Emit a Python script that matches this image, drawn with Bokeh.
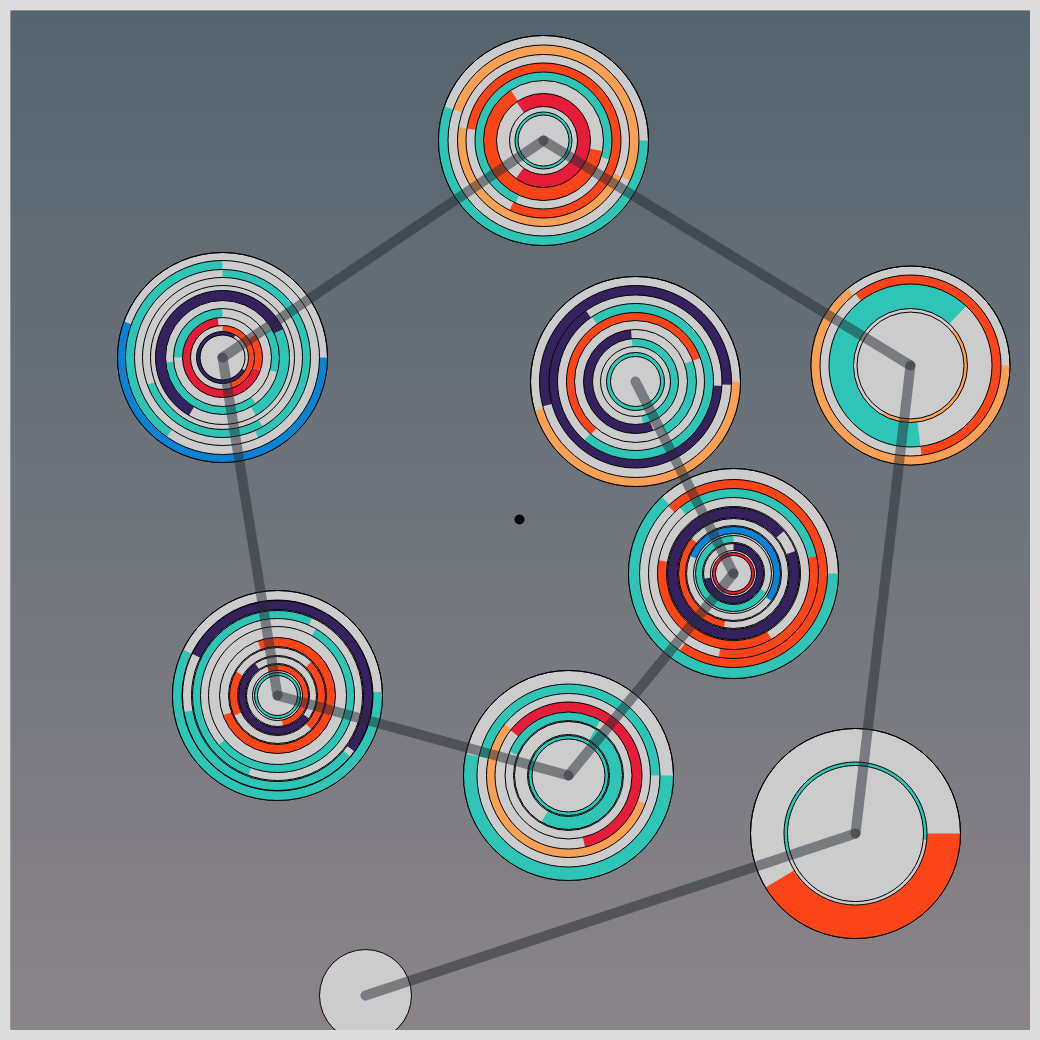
import numpy as np
from bokeh.plotting import figure
from bokeh.models import Range1d, ColumnDataSource
from bokeh.embed import file_html
from bokeh.resources import INLINE

# ---------------- data ----------------
circle_x = [543, 222, 635, 910, 733, 277, 568, 855, 365]
circle_y = [900, 683, 659, 675, 467, 345, 265, 207, 45]
circle_r = [105, 105, 105, 99.5, 105, 105, 105, 105, 46]
path_order = [2, 4, 6, 5, 1, 0, 3, 7, 8]
dot_x = [519]
dot_y = [521]

# rings: circle index, outer radius, inner radius, colour code, start deg, end deg
ring_circle = [0, 0, 0, 0, 0, 0, 0, 0, 0,
               1, 1, 1, 1, 1, 1, 1, 1, 1, 1, 1, 1, 1, 1,
               2, 2, 2, 2, 2, 2, 2, 2, 2, 2,
               3, 3, 3, 3,
               4, 4, 4, 4, 4, 4, 4, 4, 4, 4, 4,
               5, 5, 5, 5, 5, 5, 5, 5, 5, 5, 5,
               6, 6, 6, 6, 6, 6, 6,
               7, 7]
ring_outer = [105, 95.5, 86, 77.5, 68.5, 60, 47, 34, 28.5,
              105, 97, 88, 80, 67, 67, 57, 57, 49, 40, 40, 32, 26, 26,
              105, 96, 86.5, 78, 69, 61, 52, 43, 35, 29,
              99.5, 90.5, 81.5, 57,
              105, 94, 85, 85, 76, 66, 55, 47, 38, 30, 21,
              105, 95, 95, 85, 77, 58, 48, 48, 39, 31, 23,
              105, 91.5, 82, 73.5, 63.5, 54, 40,
              105, 71.5]
ring_inner = [95.5, 86, 77.5, 68.5, 60, 47, 34, 28.5, 25.5,
              97, 88, 80, 72, 57, 57, 49, 49, 40, 32, 32, 26, 22.5, 22.5,
              96, 86.5, 78, 69, 61, 52, 43, 35, 29, 25,
              90.5, 81.5, 57, 53.5,
              94, 85, 76, 76, 67, 56, 48, 40, 31, 23, 18,
              95.5, 86, 86, 77, 69, 49, 40, 40, 32, 25, 20,
              91.5, 82, 73.5, 63.5, 55, 41, 36.5,
              71.5, 68]
ring_color = ["T", "O", "O", "R", "T", "R", "C", "G", "T",
              "B", "T", "T", "T", "P", "T", "T", "T", "T", "C", "R", "R", "P", "G",
              "O", "P", "P", "T", "R", "T", "P", "T", "G", "T",
              "O", "R", "T", "O",
              "T", "R", "T", "R", "R", "P", "R", "B", "T", "P", "C",
              "T", "P", "T", "T", "T", "R", "R", "R", "P", "R", "T",
              "T", "T", "O", "C", "T", "T", "T",
              "R", "T"]
ring_start = [161, -25, 171, -116, -16, 123, -126, 0, 0,
              160, 90, -66, 200, 25, -60, 185, -15, 90, 97, -19, -74, 60, 0,
              196, -2, 125, -131, 20, -60, 95, -80, 0, 0,
              129, -83, 47, -120,
              133, -125, 12, -100, 170, 40, 140, -36, 90, 190, 0,
              154, -36, 190, 66, 220, 200, -45, 150, 125, -80, 0,
              168, 0, 141, -77, 60, -120, 0,
              211, -5]
ring_end = [360, 161, 335, 171, 246, 350, 125, 0, 360,
            360, 235, 90, 300, 240, 25, 306, 30, 180, 341, 35, 90, 330, 0,
            360, 195, 357, 124, 230, 20, 290, 95, 0, 360,
            360, 127.5, 277, 40,
            360, 134, 129, 12, 300, 380, 260, 158, 330, 450, 360,
            362, 154, 320, 250, 420, 470, 45, 205, 324, 110, 360,
            360, 168, 340, 142, 158, 60, 360,
            360, 194]

palette = {"T": "#2ec4b6", "O": "#f8a055", "R": "#fe4519", "C": "#e61c38",
           "P": "#35215e", "B": "#0a84d2", "G": None}
disc_gray = "#cccccc"

# ---------------- figure ----------------
p = figure(width=1030, height=1030, x_range=Range1d(10, 1030), y_range=Range1d(10, 1030),
           output_backend="svg", toolbar_location=None,
           min_border_left=10, min_border_top=10, min_border_right=0, min_border_bottom=0,
           x_axis_type=None, y_axis_type=None,
           border_fill_color="#dcdcdc", outline_line_color="#a0a0a0")

# background gradient
n = 256
top = np.array([0x55, 0x65, 0x6f], dtype=float)
bot = np.array([0x8b, 0x85, 0x8a], dtype=float)
t = np.linspace(0, 1, n)[:, None]
cols = bot * (1 - t) + top * t
img = np.zeros((n, 1), dtype=np.uint32)
view = img.view(dtype=np.uint8).reshape((n, 1, 4))
view[:, 0, 0] = cols[:, 0]
view[:, 0, 1] = cols[:, 1]
view[:, 0, 2] = cols[:, 2]
view[:, 0, 3] = 255
p.image_rgba(image=[img], x=10, y=10, dw=1020, dh=1020)

# base discs
p.circle(x=circle_x, y=circle_y, radius=circle_r, fill_color=disc_gray,
         line_color="black", line_width=1)

# coloured arcs
idx = [i for i, c in enumerate(ring_color) if palette[c] is not None]
wsrc = ColumnDataSource(dict(
    x=[circle_x[ring_circle[i]] for i in idx],
    y=[circle_y[ring_circle[i]] for i in idx],
    ri=[ring_inner[i] for i in idx],
    ro=[ring_outer[i] for i in idx],
    a0=list(np.radians([ring_start[i] for i in idx])),
    a1=list(np.radians([ring_end[i] for i in idx])),
    c=[palette[ring_color[i]] for i in idx],
))
p.annular_wedge(x="x", y="y", inner_radius="ri", outer_radius="ro",
                start_angle="a0", end_angle="a1", fill_color="c",
                line_color=None, source=wsrc)

# ring outlines
ox, oy, orr = [], [], []
for ci in range(len(circle_x)):
    radii = set()
    for i, c in enumerate(ring_circle):
        if c == ci:
            radii.add(ring_outer[i])
            radii.add(ring_inner[i])
    for r in sorted(radii):
        ox.append(circle_x[ci]); oy.append(circle_y[ci]); orr.append(r)
p.circle(x=ox, y=oy, radius=orr, fill_color=None, line_color="black", line_width=1)

# path
sx0 = [circle_x[path_order[i]] for i in range(len(path_order) - 1)]
sy0 = [circle_y[path_order[i]] for i in range(len(path_order) - 1)]
sx1 = [circle_x[path_order[i + 1]] for i in range(len(path_order) - 1)]
sy1 = [circle_y[path_order[i + 1]] for i in range(len(path_order) - 1)]
p.segment(x0=sx0, y0=sy0, x1=sx1, y1=sy1, line_width=10, line_color="#232a31",
          line_alpha=0.5, line_cap="round")

# centre dot
p.circle(x=dot_x, y=dot_y, radius=5, fill_color="black", line_color=None)

html = file_html(p, INLINE)
html = html.replace("</head>", "<style>html,body{margin:0;padding:0;background:#dcdcdc;overflow:hidden;}</style></head>", 1)
open("out.html", "w").write(html)
